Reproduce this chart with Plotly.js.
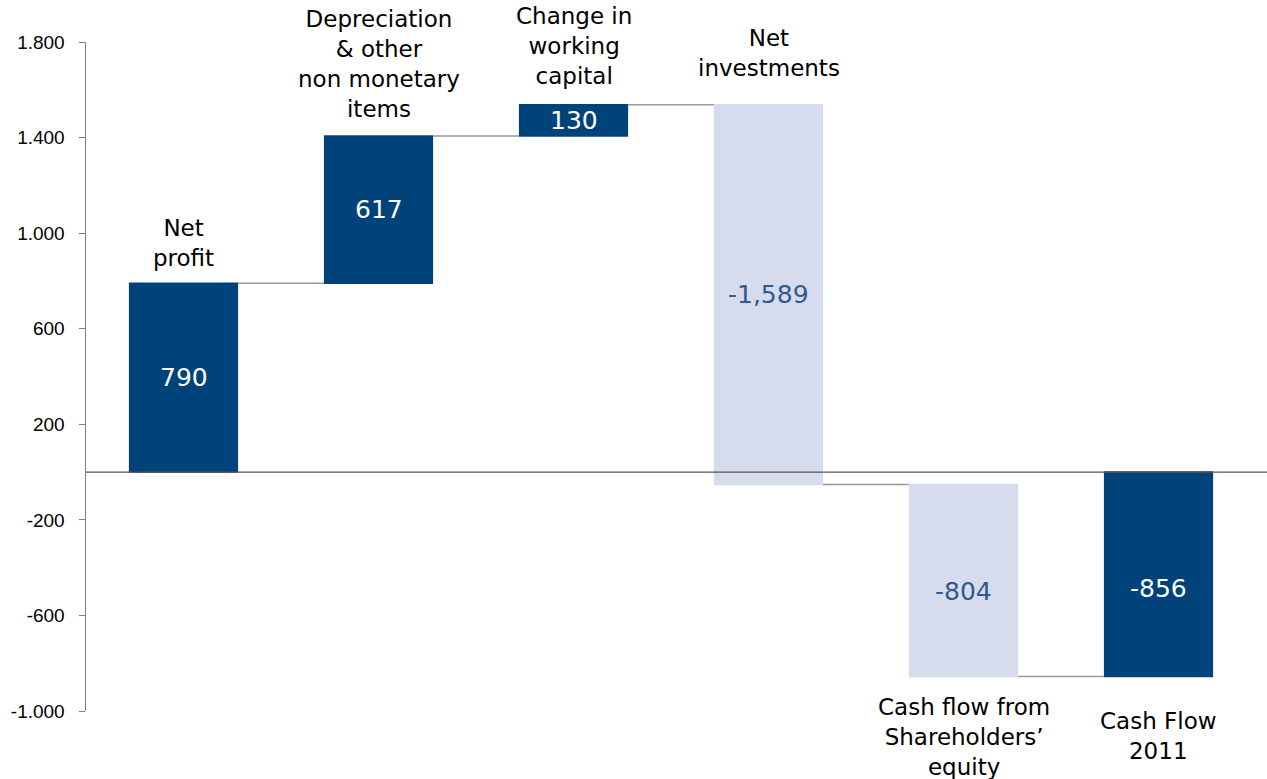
<!DOCTYPE html>
<html>
<head>
<meta charset="utf-8">
<script src="https://cdn.plot.ly/plotly-3.0.1.min.js"></script>
<style>html,body{margin:0;padding:0;background:#fff;}#chart{width:1267px;height:779px;}</style>
</head>
<body>
<div id="chart"></div>
<script>
const categories = ["Net profit", "Depreciation & other non monetary items", "Change in working capital", "Net investments", "Cash flow from Shareholders' equity", "Cash Flow 2011"];
const labelLines = ["Net<br>profit", "Depreciation<br>& other<br>non monetary<br>items", "Change in<br>working<br>capital", "Net<br>investments", "Cash flow from<br>Shareholders’<br>equity", "Cash Flow<br>2011"];
const values = [790, 617, 130, -1589, -804, 0];
const measures = ["relative", "relative", "relative", "relative", "relative", "total"];
const valueLabels = ["790", "617", "130", "-1,589", "-804", "-856"];
const tickVals = [-1000, -600, -200, 200, 600, 1000, 1400, 1800];
const tickText = ["-1.000", "-600", "-200", "200", "600", "1.000", "1.400", "1.800"];

const DARK = "#00437A";
const LIGHT = "#D6DCEE";
const LIGHT_TEXT = "#2F5A8E";

const textColors = values.map((v, i) => (measures[i] === "total" || v >= 0) ? "#FFFFFF" : LIGHT_TEXT);

let run = 0;
const tops = [], bottoms = [];
values.forEach((v, i) => {
  let a, b;
  if (measures[i] === "total") { a = 0; b = run; }
  else { a = run; b = run + v; run = b; }
  tops.push(Math.max(a, b));
  bottoms.push(Math.min(a, b));
});

const above = [true, true, true, true, false, false];
const shifts = [10, 12, 14, 22, -15, -29];
const annotations = labelLines.map((t, i) => ({
  x: categories[i],
  y: above[i] ? tops[i] : bottoms[i],
  xref: "x", yref: "y",
  text: t,
  showarrow: false,
  yanchor: above[i] ? "bottom" : "top",
  yshift: shifts[i],
  font: {family: "DejaVu Sans", size: 23, color: "#000"},
  align: "center"
}));

const valueShifts = [0, 0, 0, 0, -11, -14];
valueLabels.forEach((t, i) => {
  annotations.push({
    x: categories[i],
    y: (tops[i] + bottoms[i]) / 2,
    xref: "x", yref: "y",
    text: t,
    showarrow: false,
    yanchor: "middle",
    yshift: valueShifts[i],
    font: {family: "DejaVu Sans", size: 25, color: textColors[i]}
  });
});

const trace = {
  type: "waterfall",
  x: categories,
  y: values,
  measure: measures,
  textinfo: "none",
  increasing: {marker: {color: DARK}},
  decreasing: {marker: {color: LIGHT}},
  totals: {marker: {color: DARK}},
  connector: {mode: "between", line: {color: "#9a9a9a", width: 1.5}},
  hoverinfo: "none"
};

const layout = {
  width: 1267, height: 779,
  margin: {l: 86, r: 11, t: 42, b: 68},
  paper_bgcolor: "#fff", plot_bgcolor: "#fff",
  showlegend: false,
  waterfallgap: 0.44,
  xaxis: {showticklabels: false, showline: false, showgrid: false, zeroline: false, ticks: ""},
  yaxis: {
    range: [-1000, 1800],
    tickvals: tickVals, ticktext: tickText,
    ticks: "outside", ticklen: 6, tickcolor: "#808080",
    ticklabelstandoff: 10,
    showline: true, linecolor: "#808080", linewidth: 1.5,
    showgrid: false, zeroline: false,
    tickfont: {family: "Liberation Sans", size: 19, color: "#000"}
  },
  shapes: [{type: "line", xref: "paper", yref: "y", x0: 0, x1: 1.01, y0: 0, y1: 0, line: {color: "#555", width: 1.2}}],
  annotations: annotations
};

Plotly.newPlot("chart", [trace], layout, {displayModeBar: false, staticPlot: true});
</script>
</body>
</html>
